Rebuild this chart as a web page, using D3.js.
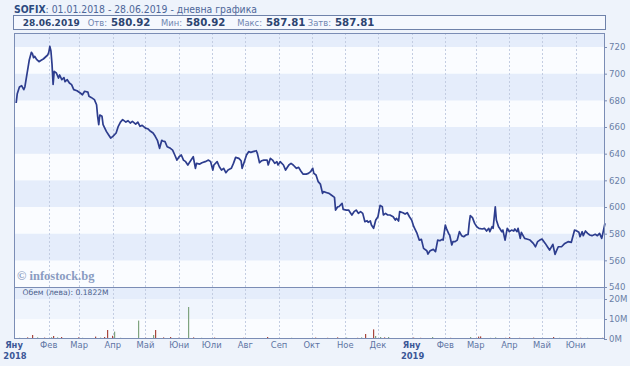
<!DOCTYPE html>
<html><head><meta charset="utf-8">
<script src="https://cdn.jsdelivr.net/npm/d3@7"></script>
<style>body{margin:0;background:#eef3fb}svg{display:block}</style>
</head><body><svg id="c" width="630" height="366"></svg>
<script>
// ---------------- DATA ----------------
const priceDates = [
"2018-01-02","2018-01-03","2018-01-05","2018-01-07","2018-01-09","2018-01-10","2018-01-12","2018-01-14","2018-01-16","2018-01-17","2018-01-18","2018-01-19","2018-01-21","2018-01-23","2018-01-25","2018-01-27","2018-01-29","2018-01-31",
"2018-02-01","2018-02-02","2018-02-03","2018-02-04","2018-02-05","2018-02-06","2018-02-08","2018-02-10","2018-02-11","2018-02-13","2018-02-15","2018-02-16","2018-02-18","2018-02-20","2018-02-22","2018-02-24","2018-02-27",
"2018-03-02","2018-03-04","2018-03-06","2018-03-09","2018-03-10","2018-03-12","2018-03-15","2018-03-17","2018-03-18","2018-03-19","2018-03-20","2018-03-22","2018-03-23","2018-03-26","2018-03-28","2018-03-30",
"2018-04-01","2018-04-04","2018-04-06","2018-04-08","2018-04-10","2018-04-13","2018-04-15","2018-04-17","2018-04-19","2018-04-22","2018-04-24","2018-04-26","2018-04-28",
"2018-05-01","2018-05-03","2018-05-05","2018-05-08","2018-05-10","2018-05-12","2018-05-14","2018-05-16","2018-05-17","2018-05-19","2018-05-21","2018-05-24","2018-05-26","2018-05-28","2018-05-30",
"2018-06-01","2018-06-03","2018-06-05","2018-06-07","2018-06-09","2018-06-12","2018-06-14","2018-06-16","2018-06-17","2018-06-20","2018-06-22","2018-06-25","2018-06-28","2018-06-30",
"2018-07-02","2018-07-03","2018-07-06","2018-07-08","2018-07-10","2018-07-12","2018-07-14","2018-07-16","2018-07-19","2018-07-21","2018-07-23","2018-07-26","2018-07-28","2018-07-29","2018-07-31",
"2018-08-02","2018-08-04","2018-08-06","2018-08-08","2018-08-11","2018-08-12","2018-08-14","2018-08-16","2018-08-18","2018-08-21","2018-08-22","2018-08-24","2018-08-26","2018-08-28","2018-08-30","2018-08-31",
"2018-09-02","2018-09-05","2018-09-07","2018-09-10","2018-09-12","2018-09-14","2018-09-17","2018-09-19","2018-09-21","2018-09-23","2018-09-26","2018-09-28","2018-09-30",
"2018-10-02","2018-10-03","2018-10-05","2018-10-07","2018-10-09","2018-10-11","2018-10-12","2018-10-15","2018-10-17","2018-10-19","2018-10-22","2018-10-23","2018-10-25","2018-10-26","2018-10-29","2018-10-30",
"2018-11-02","2018-11-04","2018-11-05","2018-11-07","2018-11-09","2018-11-11","2018-11-13","2018-11-15","2018-11-17","2018-11-19","2018-11-21","2018-11-22","2018-11-24","2018-11-25","2018-11-27","2018-11-29",
"2018-12-01","2018-12-03","2018-12-05","2018-12-06","2018-12-08","2018-12-10","2018-12-12","2018-12-15","2018-12-17","2018-12-18","2018-12-20","2018-12-21","2018-12-24","2018-12-26","2018-12-28","2018-12-30",
"2019-01-01","2019-01-03","2019-01-06","2019-01-08","2019-01-10","2019-01-12","2019-01-15","2019-01-16","2019-01-18","2019-01-21","2019-01-23","2019-01-25","2019-01-27","2019-01-29","2019-01-30",
"2019-02-01","2019-02-02","2019-02-04","2019-02-05","2019-02-07","2019-02-08","2019-02-10","2019-02-12","2019-02-14","2019-02-16","2019-02-18","2019-02-20","2019-02-22","2019-02-23","2019-02-24","2019-02-26","2019-02-28",
"2019-03-02","2019-03-04","2019-03-07","2019-03-09","2019-03-11","2019-03-13","2019-03-14","2019-03-16","2019-03-17","2019-03-19","2019-03-20","2019-03-22","2019-03-23","2019-03-25","2019-03-26","2019-03-28","2019-03-30",
"2019-04-01","2019-04-03","2019-04-05","2019-04-06","2019-04-08","2019-04-09","2019-04-11","2019-04-12","2019-04-15","2019-04-17","2019-04-20","2019-04-23","2019-04-25","2019-04-27","2019-04-29",
"2019-05-01","2019-05-04","2019-05-06","2019-05-08","2019-05-11","2019-05-13","2019-05-14","2019-05-16","2019-05-19","2019-05-22","2019-05-25","2019-05-28","2019-05-31",
"2019-06-02","2019-06-04","2019-06-05","2019-06-07","2019-06-08","2019-06-10","2019-06-12","2019-06-14","2019-06-16","2019-06-19","2019-06-21","2019-06-23","2019-06-25","2019-06-26","2019-06-28"
];
const priceValues = [
678,685,690,691,688,690,700,710,716,715,712,713,710.5,709,710,711,712.5,714,
716,720.5,717,707,692,701.7,700.5,696.7,699,695.5,697,694,695.5,693,691.8,688,687.2,
685.5,684.2,686.8,686.2,683,682.2,680.5,676.7,668,661.7,669,668,661.7,656.7,654.2,651.7,
653,655.5,660.5,663.7,665.5,663.7,664.7,663,664.2,662.2,663.7,660.5,661.2,
659.2,658.7,657.2,655.5,653,650,644,650,649.5,649,645.2,644,642.7,639,635.2,
637.7,639,635.2,634,631.5,635.2,637.7,629,632.7,632.2,633.2,634,635.2,634,
627.7,631.5,634,630.2,627.7,629,625.7,627.7,629,632.7,637.2,636.5,634.7,629,634,
639,641.5,641,641.5,642.2,640.2,633.2,634.7,635.2,635.2,631.5,636.5,635.2,632.7,634,631.5,
634,631.5,627.7,631.5,632.7,631.5,629,629.7,627,624.7,624.7,625.2,626.5,
629,625.2,624,619,617.2,610.2,611.5,610.7,610.2,609,607.2,597.7,600.2,600.2,602.7,598.2,
597.7,597.7,596.5,594,596.5,597.7,595.2,596.5,595.2,589,589.7,588.5,589.5,586.5,584,590.2,
592.7,601.2,600.2,594,595.2,594,594,592.7,590.2,591.5,589.5,596.5,595.7,594.7,595.7,592.7,
590.2,585.2,580.2,575.2,575.7,569,567.2,564.7,567.2,568.2,566.5,575.2,574.7,575.7,575.2,
586.5,584,580.2,579,571.5,574,574,575.2,581.5,578.5,577.7,579,579.5,587.7,593.5,592,587.7,
585.2,584,583.5,584,582,584,581.5,585.2,584,600.2,590.2,585.2,584,581.5,582.7,575.2,584,
581.5,582.7,582,583.5,581.5,584,576.5,581,576.5,576,575.2,572.7,570.2,574,575.2,
576,572.7,570.2,567.7,572,564.5,566.5,570.2,570.2,572.7,574,573.5,582.7,
582,581,577.7,581.5,578.5,582,580.2,579,578.5,579.5,578.5,580.2,576.5,580.2,587.81
];
// turnover in million BGN; 1 = up day (green), 0 = down day (red)
const volumeDates = [
"2018-01-05","2018-01-12","2018-01-17","2018-01-21","2018-01-28","2018-02-03","2018-02-05","2018-02-09","2018-02-12","2018-02-28",
"2018-03-04","2018-03-16","2018-03-20","2018-03-24","2018-03-27","2018-03-31","2018-04-02","2018-04-08","2018-04-17","2018-04-24",
"2018-05-01","2018-05-08","2018-05-10","2018-05-17","2018-05-24","2018-05-31","2018-06-04","2018-06-09","2018-06-14","2018-06-21",
"2018-07-03","2018-07-09","2018-07-18","2018-07-30","2018-08-10","2018-08-21","2018-08-28","2018-09-12","2018-09-21","2018-10-04",
"2018-10-15","2018-10-24","2018-11-02","2018-11-12","2018-11-15","2018-11-19","2018-11-26","2018-11-28","2018-12-03","2018-12-07",
"2018-12-10","2018-12-16","2018-12-26","2019-01-02","2019-01-09","2019-01-16","2019-01-20","2019-01-28","2019-02-05","2019-02-14",
"2019-02-24","2019-03-03","2019-03-05","2019-03-14","2019-03-19","2019-03-28","2019-04-01","2019-04-05","2019-04-10","2019-04-23",
"2019-04-29","2019-05-11","2019-05-17","2019-05-26","2019-06-05","2019-06-11","2019-06-16","2019-06-21","2019-06-25"
];
const volumeValues = [
0.6,0.8,2.0,0.8,0.7,0.9,1.5,0.8,1.0,0.8,
0.6,1.2,0.7,1.0,4.5,1.6,3.7,0.6,0.5,9.2,
0.6,2.0,4.5,0.8,1.0,0.6,0.5,16.0,0.8,0.6,
0.7,0.5,0.5,0.6,0.5,1.0,0.5,0.6,0.5,0.7,
0.6,0.8,0.7,0.6,0.8,2.5,4.8,1.5,1.0,0.8,
1.0,0.5,0.5,0.7,0.6,0.5,1.0,0.5,0.6,0.5,
1.0,1.2,1.3,0.6,0.8,0.6,0.9,0.5,0.6,0.7,
0.5,1.0,0.6,0.5,0.6,0.6,0.5,0.5,0.6
];
const volumeUp = [
1,0,0,1,0,1,0,1,0,0,
1,0,1,0,0,0,1,1,0,1,
0,1,0,0,0,0,1,1,0,1,
0,0,1,0,1,0,0,1,0,0,
0,0,1,0,1,0,0,1,1,0,
1,0,1,0,0,0,1,1,0,1,
1,0,0,1,1,0,0,1,0,0,
1,0,1,0,0,1,0,1,0
];
const priceTicks = [540,560,580,600,620,640,660,680,700,720];
const volumeTicks = [0,10,20];
const monthNames = ["Яну","Фев","Мар","Апр","Май","Юни","Юли","Авг","Сеп","Окт","Ное","Дек"];
const titleCode = "SOFIX";
const titleRest = ": 01.01.2018 - 28.06.2019 - дневна графика";
const infoDate = "28.06.2019";
const infoLabels = ["Отв:","Мин:","Макс:","Затв:"];
const infoValues = ["580.92","580.92","587.81","587.81"];
const volumeCaption = "Обем (лева): 0.1822M";
const watermark = "© infostock.bg";

// ---------------- LAYOUT ----------------
const L = 14, R = 605, PT = 33, PB = 287, VB = 339;
const svg = d3.select("#c");
const parse = d3.utcParse("%Y-%m-%d");
const FONT = "DejaVu Sans, Verdana, sans-serif";

const x = d3.scaleUtc().domain([Date.UTC(2017,11,31), Date.UTC(2019,5,28)]).range([L, R]);
const y = d3.scaleLinear().domain([540, 730.5]).range([PB, PT]);
const yv = d3.scaleLinear().domain([0, 26]).range([VB, PB]);

svg.append("rect").attr("width",630).attr("height",366).attr("fill","#eef3fb");

// price bands
const bandEdges = priceTicks.concat([730.5]);
for (let i = 0; i < bandEdges.length - 1; i++) {
  svg.append("rect").attr("x", L).attr("width", R - L)
    .attr("y", y(bandEdges[i+1])).attr("height", y(bandEdges[i]) - y(bandEdges[i+1]))
    .attr("fill", i % 2 === 1 ? "#e5edfb" : "#fafcff");
}
// volume bands
const vEdges = [0,10,20,26];
const vFill = ["#fafcff","#f0f5fd","#e5edfb"];
for (let i = 0; i < 3; i++) {
  svg.append("rect").attr("x", L).attr("width", R - L)
    .attr("y", yv(vEdges[i+1])).attr("height", yv(vEdges[i]) - yv(vEdges[i+1]))
    .attr("fill", vFill[i]);
}

// month grid
const months = d3.utcMonth.range(new Date(Date.UTC(2018,0,1)), new Date(Date.UTC(2019,5,2)));
svg.append("g").selectAll("line").data(months.slice(1)).join("line")
  .attr("x1", d => Math.round(x(d)) + 0.5).attr("x2", d => Math.round(x(d)) + 0.5)
  .attr("y1", PT).attr("y2", VB)
  .attr("stroke", "#c3cde2").attr("stroke-width", 1).attr("stroke-dasharray", "2,2");

// watermark
svg.append("text").attr("x", 17).attr("y", 280).text(watermark)
  .attr("font-family", "Liberation Serif, DejaVu Serif, serif").attr("font-weight", "bold")
  .attr("font-size", 12.5).attr("fill", "#8a9cc2");

// volume caption
svg.append("text").attr("x", 22.5).attr("y", 295).text(volumeCaption)
  .attr("font-family", FONT).attr("font-size", 7.6).attr("fill", "#4b5f8c");

// volume bars
const vol = volumeDates.map((d, i) => ({date: parse(d), v: volumeValues[i], up: volumeUp[i]}));
svg.append("g").selectAll("rect").data(vol).join("rect")
  .attr("x", d => Math.round(x(d.date)))
  .attr("width", 1.2)
  .attr("y", d => yv(d.v)).attr("height", d => yv(0) - yv(d.v))
  .attr("fill", d => d.up ? "#7fa47f" : "#a8473d");

// price line
const price = priceDates.map((d, i) => ({date: parse(d), v: priceValues[i]}));
svg.append("path").datum(price)
  .attr("d", d3.line().x(d => x(d.date)).y(d => y(d.v)))
  .attr("fill", "none").attr("stroke", "#2d3d8e").attr("stroke-width", 1.7)
  .attr("stroke-linejoin", "round");

// frames
svg.append("rect").attr("x", L + 0.5).attr("y", PT + 0.5).attr("width", R - L - 1).attr("height", VB - PT - 1)
  .attr("fill", "none").attr("stroke", "#7b8db5");
svg.append("line").attr("x1", L).attr("x2", R).attr("y1", PB + 0.5).attr("y2", PB + 0.5).attr("stroke", "#7b8db5");

// right axes
const axP = svg.append("g").attr("transform", `translate(${R - 1},0)`)
  .call(d3.axisRight(y).tickValues(priceTicks).tickSize(3).tickPadding(2));
const axV = svg.append("g").attr("transform", `translate(${R - 1},0)`)
  .call(d3.axisRight(yv).tickValues(volumeTicks).tickSize(3).tickPadding(2).tickFormat(d => d + "M"));
[axP, axV].forEach(a => {
  a.select(".domain").remove();
  a.selectAll("line").attr("stroke", "#7b8db5");
  a.selectAll("text").attr("font-family", FONT).attr("font-size", 8.6).attr("fill", "#6a7ea6");
});

// month labels
const mg = svg.append("g");
months.forEach(d => {
  const isJan = d.getUTCMonth() === 0;
  const cx = isJan && d.getUTCFullYear() === 2018 ? 14 : x(d);
  mg.append("text").attr("x", cx).attr("y", 347.5).attr("text-anchor", "middle")
    .attr("font-family", FONT).attr("font-size", 8.4)
    .attr("font-weight", isJan ? "bold" : "normal")
    .attr("fill", isJan ? "#3b5797" : "#5d74a3")
    .text(monthNames[d.getUTCMonth()]);
  if (isJan) {
    mg.append("text").attr("x", cx + 1).attr("y", 358.5).attr("text-anchor", "middle")
      .attr("font-family", FONT).attr("font-size", 8.4).attr("font-weight", "bold")
      .attr("fill", "#3b5797").text(d.getUTCFullYear());
  }
});

// title
const t = svg.append("text").attr("x", 14).attr("y", 12.5).attr("font-family", FONT).attr("font-size", 9.6)
  .attr("textLength", 243).attr("lengthAdjust", "spacingAndGlyphs");
t.append("tspan").attr("font-weight", "bold").attr("fill", "#2c4a80").text(titleCode);
t.append("tspan").attr("fill", "#4d6699").text(titleRest);

// info box
svg.append("rect").attr("x", 13.5).attr("y", 15.5).attr("width", 592).attr("height", 14)
  .attr("fill", "#f5f8fe").attr("stroke", "#6f82aa");
svg.append("text").attr("x", 22.7).attr("y", 26).attr("font-family", FONT)
  .attr("font-size", 9.4).attr("font-weight", "bold").attr("fill", "#2c4470")
  .attr("textLength", 57).attr("lengthAdjust", "spacingAndGlyphs").text(infoDate);
const valueX = [111, 186, 266, 335];
infoLabels.forEach((lab, i) => {
  svg.append("text").attr("x", valueX[i] - 4).attr("y", 26).attr("text-anchor", "end")
    .attr("font-family", FONT).attr("font-size", 8.4).attr("fill", "#6f86b0").text(lab);
  svg.append("text").attr("x", valueX[i]).attr("y", 26).attr("font-family", FONT)
    .attr("font-size", 10.2).attr("font-weight", "bold").attr("fill", "#2c4470").text(infoValues[i]);
});
</script></body></html>
